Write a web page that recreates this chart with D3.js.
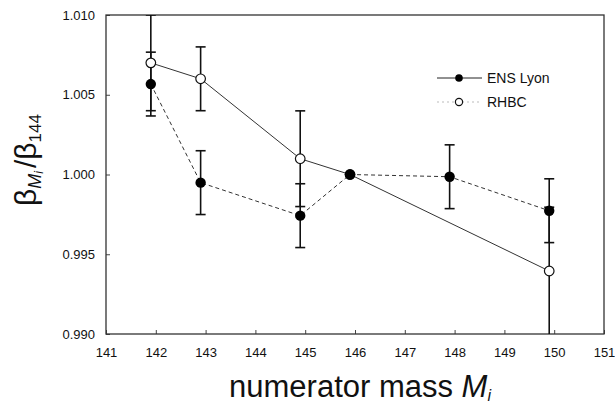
<!DOCTYPE html>
<html>
<head>
<meta charset="utf-8">
<script src="https://cdn.jsdelivr.net/npm/d3@7"></script>
<style>
  body { margin: 0; background: #fff; }
  svg { display: block; font-family: "Liberation Sans", Arial, sans-serif; }
</style>
</head>
<body>
<div class="chart"></div>
<script>
// --- Data ---
const ensMass = [141.9, 142.9, 144.9, 145.9, 147.9, 149.9];
const ensValue = [1.00567, 0.99949, 0.99742, 1.0000, 0.99986, 0.99773];
const ensErr = [0.002, 0.002, 0.002, 0, 0.002, 0.002];

const rhbcMass = [141.9, 142.9, 144.9, 145.9, 149.9];
const rhbcValue = [1.0070, 1.0060, 1.00099, 1.0000, 0.99395];
const rhbcErr = [0.003, 0.002, 0.003, 0, 0.004];

const xTicks = [141, 142, 143, 144, 145, 146, 147, 148, 149, 150, 151];
const yTicks = [0.990, 0.995, 1.000, 1.005, 1.010];

const ens = ensMass.map((m, i) => ({ m, v: ensValue[i], e: ensErr[i] }));
const rhbc = rhbcMass.map((m, i) => ({ m, v: rhbcValue[i], e: rhbcErr[i] }));

// --- Layout ---
const W = 615, H = 407;
const mLeft = 106, mRight = 604, mTop = 15, mBottom = 334;

const svg = d3.select(".chart").append("svg")
    .attr("width", W)
    .attr("height", H);

const x = d3.scaleLinear().domain([141, 151]).range([mLeft, mRight]);
const y = d3.scaleLinear().domain([0.990, 1.010]).range([mBottom, mTop]);

svg.append("clipPath").attr("id", "plot")
  .append("rect")
    .attr("x", mLeft).attr("y", mTop)
    .attr("width", mRight - mLeft).attr("height", mBottom - mTop);

// --- Axes (ticks point inward) ---
const xAxis = svg.append("g")
    .attr("transform", `translate(0,${mBottom})`)
    .call(d3.axisBottom(x).tickValues(xTicks).tickFormat(d3.format("d"))
        .tickSizeInner(-4).tickSizeOuter(0).tickPadding(14));
xAxis.selectAll("text").style("font-size", "13px").attr("fill", "#111");

const yAxis = svg.append("g")
    .attr("transform", `translate(${mLeft},0)`)
    .call(d3.axisLeft(y).tickValues(yTicks).tickFormat(d3.format(".3f"))
        .tickSizeInner(-4).tickSizeOuter(0).tickPadding(11));
yAxis.selectAll("text").style("font-size", "13px").attr("fill", "#111");

svg.selectAll(".domain").remove();
svg.selectAll(".tick line").attr("stroke", "#444");

// frame
svg.append("rect")
    .attr("x", mLeft).attr("y", mTop)
    .attr("width", mRight - mLeft).attr("height", mBottom - mTop)
    .attr("fill", "none")
    .attr("stroke", "#333")
    .attr("stroke-width", 1.3);

const plot = svg.append("g").attr("clip-path", "url(#plot)");

// --- Series lines ---
const line = d3.line().x(d => x(d.m)).y(d => y(d.v));

plot.append("path")
    .datum(rhbc)
    .attr("d", line)
    .attr("fill", "none")
    .attr("stroke", "#333")
    .attr("stroke-width", 1);

plot.append("path")
    .datum(ens)
    .attr("d", line)
    .attr("fill", "none")
    .attr("stroke", "#333")
    .attr("stroke-width", 1)
    .attr("stroke-dasharray", "4,3");

// --- Error bars ---
const drawErr = (data) => {
    const g = plot.append("g")
        .selectAll("g")
        .data(data.filter(d => d.e > 0))
        .join("g")
        .attr("stroke", "#111")
        .attr("stroke-width", 1.6);
    g.append("line")
        .attr("x1", d => x(d.m)).attr("x2", d => x(d.m))
        .attr("y1", d => y(d.v - d.e)).attr("y2", d => y(d.v + d.e));
    g.append("line")
        .attr("x1", d => x(d.m) - 5).attr("x2", d => x(d.m) + 5)
        .attr("y1", d => y(d.v + d.e)).attr("y2", d => y(d.v + d.e));
    g.append("line")
        .attr("x1", d => x(d.m) - 5).attr("x2", d => x(d.m) + 5)
        .attr("y1", d => y(d.v - d.e)).attr("y2", d => y(d.v - d.e));
};
drawErr(rhbc);
drawErr(ens);

// --- Markers ---
svg.append("g")
    .selectAll("circle")
    .data(rhbc)
    .join("circle")
    .attr("cx", d => x(d.m))
    .attr("cy", d => y(d.v))
    .attr("r", 4.8)
    .attr("fill", "#fff")
    .attr("stroke", "#111")
    .attr("stroke-width", 1.2);

svg.append("g")
    .selectAll("circle")
    .data(ens)
    .join("circle")
    .attr("cx", d => x(d.m))
    .attr("cy", d => y(d.v))
    .attr("r", 5.2)
    .attr("fill", "#000");

// --- Legend ---
const legend = svg.append("g").style("font-size", "14px");
legend.append("line")
    .attr("x1", 437).attr("x2", 482).attr("y1", 78).attr("y2", 78)
    .attr("stroke", "#222").attr("stroke-width", 1);
legend.append("circle")
    .attr("cx", 459).attr("cy", 78).attr("r", 3.8).attr("fill", "#000");
legend.append("text")
    .attr("x", 487).attr("y", 83).text("ENS Lyon").attr("fill", "#111");

legend.append("line")
    .attr("x1", 437).attr("x2", 482).attr("y1", 102).attr("y2", 102)
    .attr("stroke", "#bbb").attr("stroke-width", 1)
    .attr("stroke-dasharray", "2,3");
legend.append("circle")
    .attr("cx", 459).attr("cy", 102).attr("r", 3.6)
    .attr("fill", "#fff").attr("stroke", "#111").attr("stroke-width", 1.2);
legend.append("text")
    .attr("x", 487).attr("y", 107).text("RHBC").attr("fill", "#111");

// --- Axis titles ---
const xt = svg.append("text")
    .attr("x", 360)
    .attr("y", 397)
    .attr("text-anchor", "middle")
    .style("font-size", "31px")
    .attr("fill", "#111");
xt.append("tspan").text("numerator mass ");
xt.append("tspan").text("M").style("font-style", "italic");
xt.append("tspan").text("i").style("font-style", "italic")
    .style("font-size", "16px").attr("dy", 4);

const yt = svg.append("text")
    .attr("transform", "translate(36,160) rotate(-90)")
    .attr("text-anchor", "middle")
    .style("font-size", "30px")
    .attr("fill", "#111");
yt.append("tspan").text("β");
yt.append("tspan").text("M").style("font-style", "italic")
    .style("font-size", "18px").attr("dy", 5);
yt.append("tspan").text("i").style("font-style", "italic")
    .style("font-size", "12px").attr("dy", 2);
yt.append("tspan").text("/β").attr("dx", 3).attr("dy", -7);
yt.append("tspan").text("144").style("font-size", "17px").attr("dy", 5);
</script>
</body>
</html>
